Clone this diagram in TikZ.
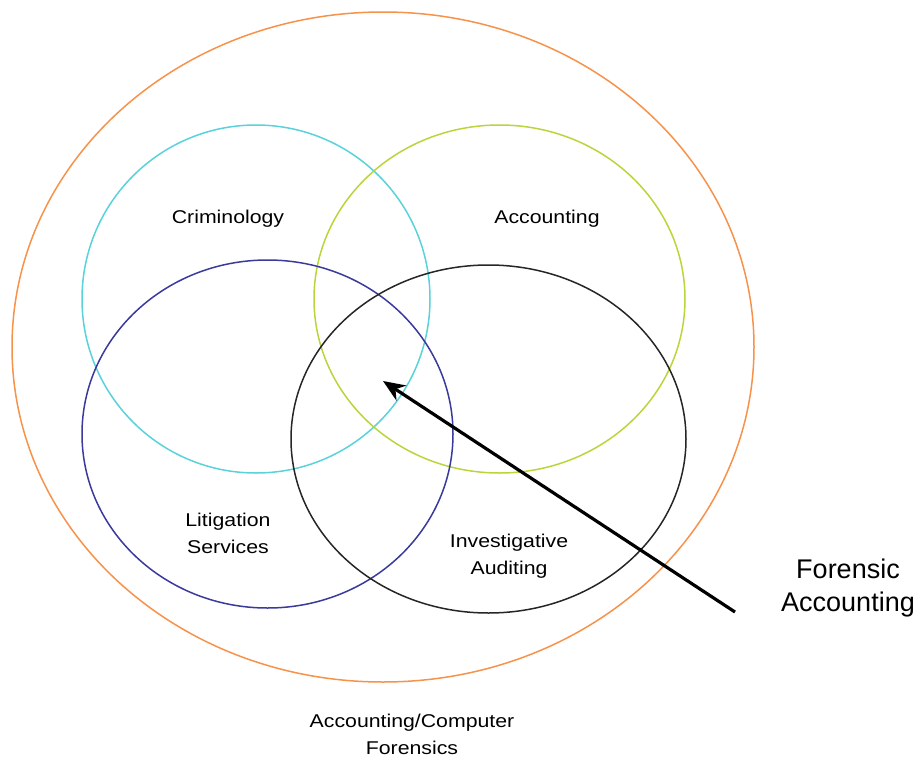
\documentclass[tikz,border=0pt]{standalone}
\usepackage{fontspec}
\setmainfont{Liberation Sans}
\usetikzlibrary{arrows.meta}
\definecolor{corange}{HTML}{F7924A}
\definecolor{ccyan}{HTML}{5AD2DA}
\definecolor{cgreen}{HTML}{B8D63A}
\definecolor{cblue}{HTML}{3A3A9C}
\tikzset{
  ring/.style={line width=1.5pt},
  lbl/.style={font=\fontsize{18.5}{27}\selectfont, xscale=1.15, align=center, text=black},
  biglbl/.style={font=\fontsize{27}{33}\selectfont, align=center, text=black},
}
\begin{document}
\begin{tikzpicture}[x=1pt,y=-1pt]
\useasboundingbox (0,0) rectangle (919,758);
\draw[ring, corange] (383,347) ellipse [x radius=371, y radius=335];
\draw[ring, ccyan] (256,299) ellipse [x radius=174, y radius=174];
\draw[ring, cgreen] (499.5,299) ellipse [x radius=185.5, y radius=174];
\draw[ring, cblue] (267.5,434) ellipse [x radius=185.5, y radius=174];
\draw[ring, black!85] (488.5,439) ellipse [x radius=197.5, y radius=174];
\node[lbl] (crim) at (228,219) {Criminology};
\node[lbl] (acc) at (547,219) {Accounting};
\node[lbl] (lit) at (228,533) {Litigation\\Services};
\node[lbl] (inv) at (509,556) {Investigative\\Auditing};
\node[lbl] (acf) at (412,734) {Accounting/Computer\\Forensics};
\node[biglbl] (fa) at (848,588) {Forensic\\Accounting};
\coordinate (tail) at (735,612);
\coordinate (tip) at (383,381);
\draw[line width=3.2pt, -{Stealth[length=22pt,width=18pt]}] (tail) -- (tip);
\end{tikzpicture}
\end{document}
